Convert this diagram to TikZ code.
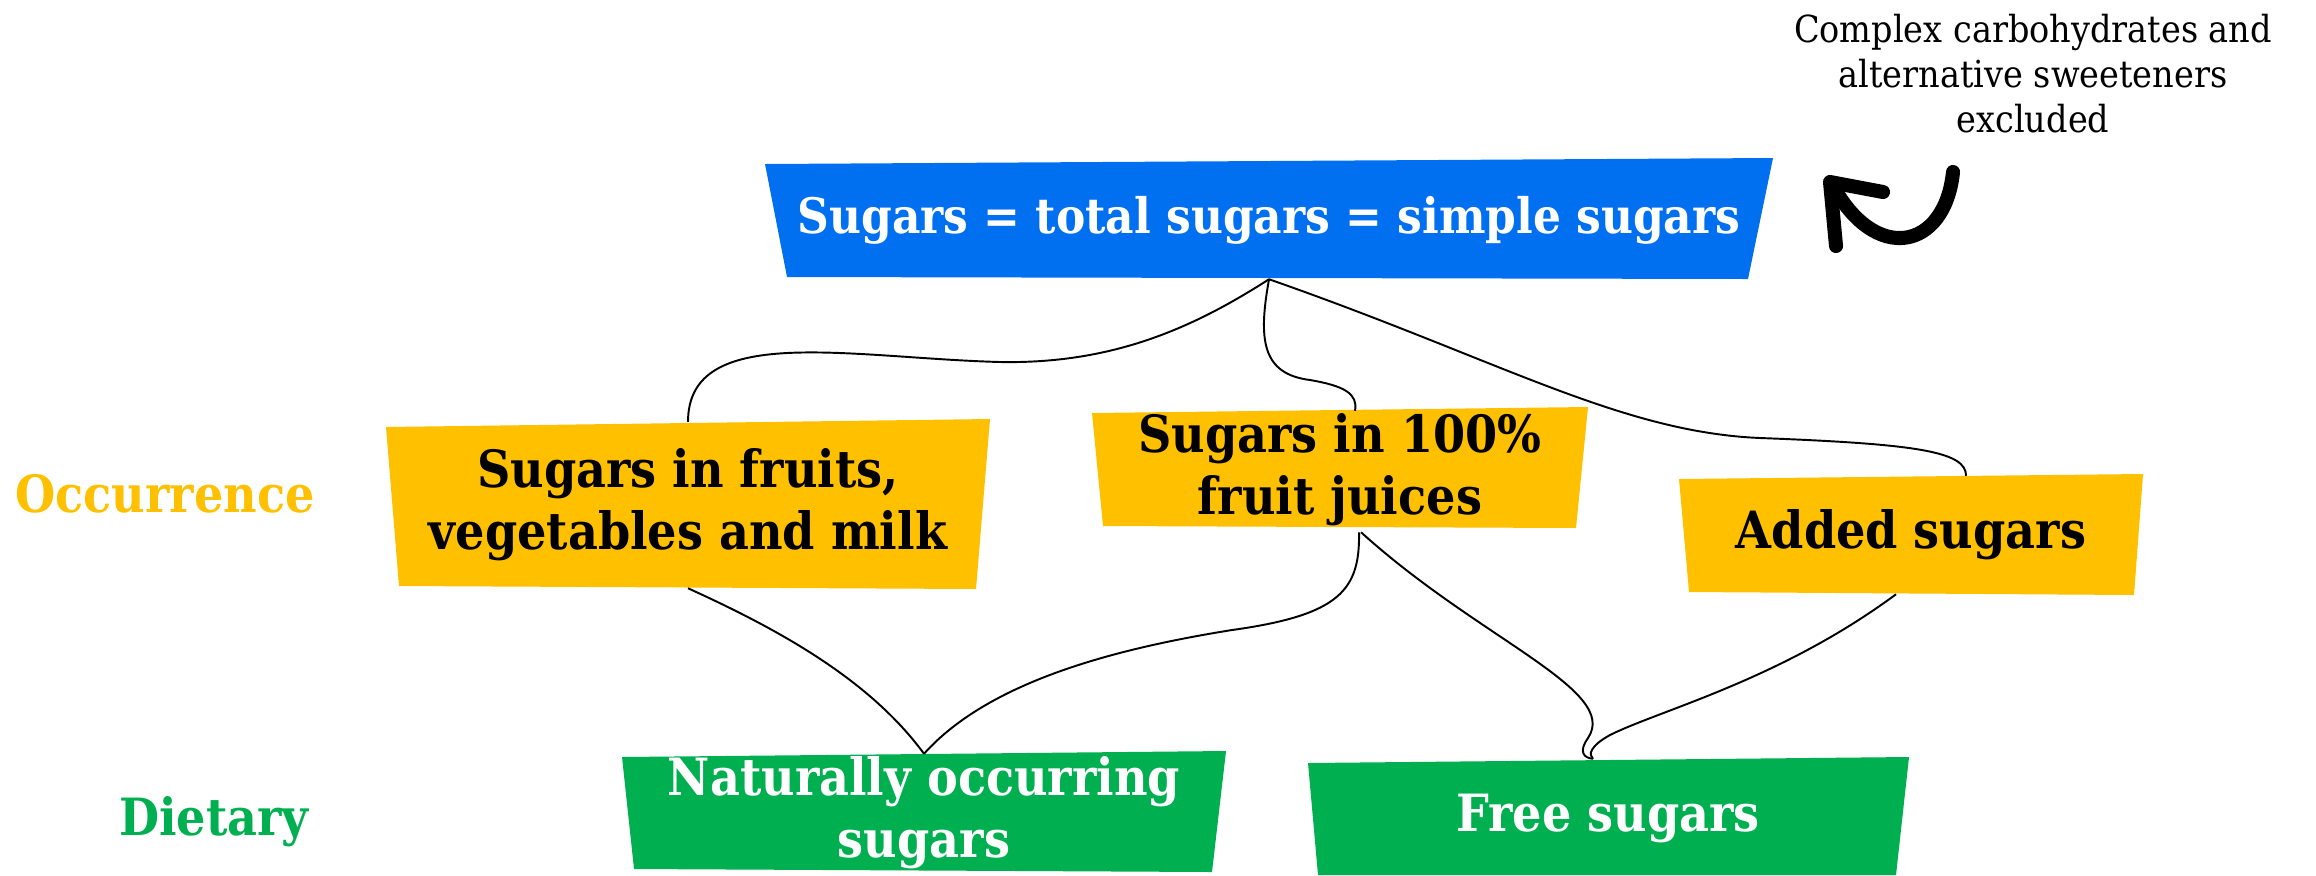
\documentclass[tikz,border=0pt]{standalone}
\usepackage{fontspec}
\setmainfont{DejaVu Serif Condensed}
\usepackage{tikz}
\usetikzlibrary{positioning,calc}
\definecolor{sugblue}{RGB}{0,112,240}
\definecolor{sugyellow}{RGB}{255,192,0}
\definecolor{suggreen}{RGB}{0,176,80}
\tikzset{
  boxnode/.style={inner sep=0pt,align=center,font=\bfseries\fontsize{14.6}{17.6}\selectfont},
  topv/.style={boxnode,text=white,minimum width=10cm,minimum height=1.17cm,font=\bfseries\fontsize{13.9}{17}\selectfont},
  occv/.style={boxnode,text=black,minimum height=1.17cm},
  dietv/.style={boxnode,text=white,minimum height=1.17cm},
  rowlab/.style={font=\bfseries\fontsize{14.6}{17.6}\selectfont,inner sep=0pt},
  note/.style={font=\fontsize{10.6}{12.8}\selectfont,align=center,inner sep=0pt},
  link/.style={line width=.55pt,black},
  squig/.style={line width=4pt,black,line cap=round,line join=round}
}

\begin{document}
\begin{tikzpicture}[x=0.01cm,y=-0.01cm]
  \useasboundingbox (0,0) rectangle (2316,875);
  % coloured boxes
  \fill[sugblue] (765,164) -- (1773,158) -- (1748,279) -- (787,277) -- cycle;
  \fill[sugyellow] (386,427) -- (990,419) -- (976,589) -- (399,586) -- cycle;
  \fill[sugyellow] (1092,413) -- (1588,407) -- (1576,528) -- (1103,526) -- cycle;
  \fill[sugyellow] (1679,479) -- (2143,474) -- (2134,595) -- (1689,592) -- cycle;
  \fill[suggreen] (622,757) -- (1226,751) -- (1212,872) -- (634,869) -- cycle;
  \fill[suggreen] (1308,763) -- (1909,757) -- (1896,875) -- (1318,875) -- cycle;

  \node[topv] (total) at (1269,220) {Sugars = total sugars = simple sugars};
  \node[occv,minimum width=5.95cm,minimum height=1.65cm] (fruit) at (688,505) {Sugars in fruits,\\vegetables and milk};
  \node[occv,minimum width=4.9cm] (juice) at (1340,470) {Sugars in 100\%\\fruit juices};
  \node[occv,minimum width=4.6cm] (added) at (1911,535) {Added sugars};
  \node[dietv,minimum width=5.95cm] (natural) at (924,813) {Naturally occurring\\sugars};
  \node[dietv,minimum width=5.95cm] (free) at (1608,818) {Free sugars};

  \node[rowlab,text=sugyellow] (occur) at (165,494) {Occurrence};
  \node[rowlab,text=suggreen] (diet) at (214,822) {Dietary};
  \node[note] (excl) at (2033,74) {Complex carbohydrates and\\alternative sweeteners\\excluded};

  % hand drawn arrow
  \coordinate (sq1) at (1953,172);
  \coordinate (sq2) at (1832,184);
  \draw[squig] (sq1) .. controls (1945,250) and (1875,265) .. (sq2);
  \draw[squig] (1883,192) -- (1830,182) -- (1836,246);

  % connectors
  \draw[link] (total.south) .. controls (1190,330) and (1110,364) .. (1000,362)
    .. controls (850,358) and (688,322) .. (fruit.north);
  \draw[link] (total.south) .. controls (1258,340) and (1262,374) .. (1310,380)
    .. controls (1345,386) and (1358,394) .. ([xshift=.15cm]juice.north);
  \draw[link] (total.south) .. controls (1500,360) and (1620,432) .. (1760,438)
    .. controls (1920,444) and (1966,452) .. ([xshift=.55cm]added.north);
  \draw[link] (fruit.south) .. controls (780,630) and (870,680) .. (natural.north);
  \draw[link] ([xshift=.19cm,yshift=-.03cm]juice.south) .. controls (1360,590) and (1340,615) .. (1232,630)
    .. controls (1120,648) and (990,680) .. (natural.north);
  \draw[link] ([xshift=.21cm,yshift=-.03cm]juice.south) .. controls (1480,640) and (1620,690) .. (1588,738)
    .. controls (1578,752) and (1584,758) .. ([xshift=-.15cm]free.north);
  \draw[link] ([xshift=-.15cm]added.south) .. controls (1780,680) and (1660,710) .. (1610,735)
    .. controls (1590,746) and (1588,755) .. ([xshift=-.15cm]free.north);
\end{tikzpicture}
\end{document}
